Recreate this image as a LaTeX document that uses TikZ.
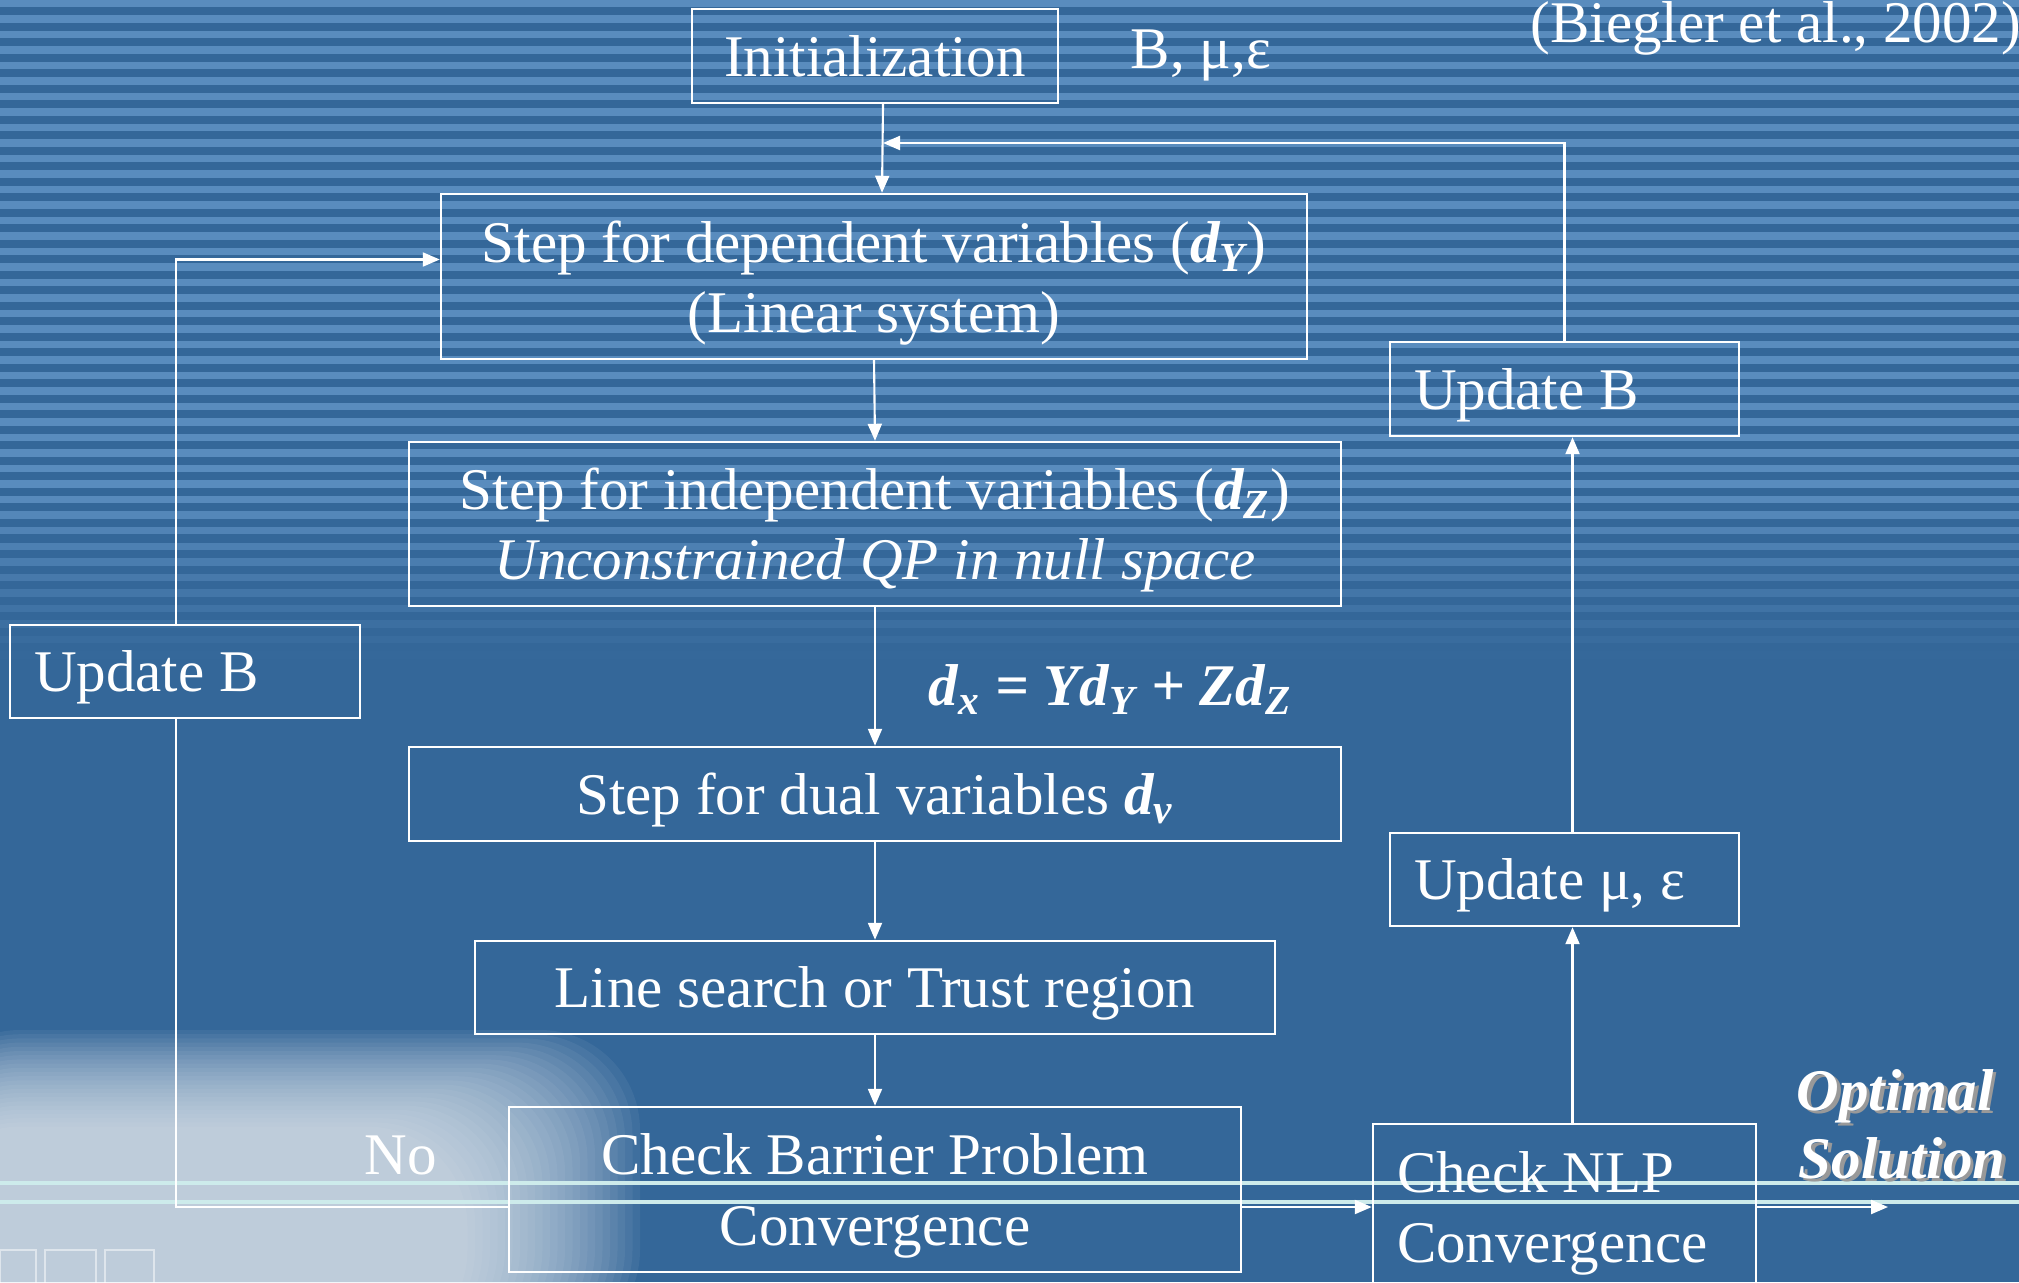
\documentclass[tikz,border=0pt]{standalone}
\usepackage{fontspec}
\setmainfont{Liberation Serif}
\usetikzlibrary{arrows.meta}
\definecolor{slideblue}{RGB}{52,103,153}
\definecolor{stripeblue}{RGB}{115,165,215}
\definecolor{glowline}{RGB}{205,235,235}
\newcommand{\bfit}[1]{\textbf{\textit{#1}}}
\newcommand{\natspace}{\spaceskip 0pt\relax}

\begin{document}
\begin{tikzpicture}[
	frame/.style={draw=white, line width=0.7pt, text=white, inner sep=0pt, text depth=0pt, font=\fontsize{16.8}{20}\selectfont},
	box/.style={frame, align=center},
	lbox/.style={frame, align=left, inner xsep=0.24cm, execute at begin node=\natspace},
	flow/.style={draw=white, line width=0.6pt},
	arr/.style={flow, -{Triangle[length=0.17cm, width=0.14cm]}},
	lbl/.style={text=white, inner sep=0pt, font=\fontsize{16.8}{20}\selectfont}
]
	\clip (0,0) rectangle (20.19,-12.82);
	\fill[slideblue] (0,0) rectangle (20.19,-12.82);
	\foreach \i in {0,...,42} {
		\pgfmathsetmacro{\op}{min(0.6,max(0,(6.6-0.155*\i)*0.35))}
		\fill[stripeblue, opacity=\op] (0,-0.155*\i) rectangle (20.19,-0.155*\i-0.075);
	}
	\foreach \k in {0,...,23} {
		\fill[white!92!slideblue, opacity=0.06, rounded corners=1cm] (-0.8,-10.3-0.042*\k) rectangle (6.4-0.075*\k,-13.5);
	}
	\foreach \y in {11.83,12.02} {
		\draw[glowline, line width=0.9pt] (0,-\y) -- (20.19,-\y);
	}
	\foreach \a/\b in {0/0.36, 0.45/0.96, 1.05/1.54} {
		\draw[white, opacity=0.5, line width=0.8pt] (\a,-12.9) rectangle (\b,-12.5);
	}

	\node[box, minimum width=3.66cm, minimum height=0.94cm] (init) at (8.75,-0.56) {Initialization};
	\node[lbl, anchor=base west] (param) at (11.30,-0.69) {B, μ,ε};
	\node[lbl, anchor=base west] (ref) at (15.30,-0.43) {(Biegler et al., 2002)};
	\node[box, minimum width=8.66cm, minimum height=1.65cm] (stepY) at (8.74,-2.765) {Step for dependent variables (\bfit{d\textsubscript{Y}})\\(Linear system)};
	\node[box, minimum width=9.32cm, minimum height=1.64cm] (stepZ) at (8.75,-5.24) {Step for independent variables (\bfit{d\textsubscript{Z}})\\\textit{Unconstrained QP in null space}};
	\node[lbl, anchor=base west] (dx) at (9.28,-7.05) {\bfit{d\textsubscript{x} = Yd\textsubscript{Y} + Zd\textsubscript{Z}}};
	\node[box, minimum width=9.32cm, minimum height=0.94cm] (dual) at (8.75,-7.94) {Step for dual variables \bfit{d\textsubscript{v}}};
	\node[box, minimum width=8.00cm, minimum height=0.93cm] (search) at (8.75,-9.875) {Line search or Trust region};
	\node[box, minimum width=7.32cm, minimum height=1.65cm] (barrier) at (8.75,-11.895) {Check Barrier Problem\\Convergence};
	\node[lbl, anchor=base west] (no) at (3.64,-11.74) {No};
	\node[lbox, text width=3.02cm, minimum height=0.93cm] (updL) at (1.85,-6.715) {Update B};
	\node[lbox, text width=3.01cm, minimum height=0.94cm] (updR) at (15.645,-3.89) {Update B};
	\node[lbox, text width=3.01cm, minimum height=0.93cm] (updMu) at (15.645,-8.795) {Update μ, ε};
	\node[lbox, text width=3.35cm, text depth=0.70cm, minimum height=1.66cm] (nlp) at (15.645,-12.07) {Check NLP\\Convergence};
	\foreach \d/\c in {0.035/gray!80, 0/white} {
		\node[lbl, anchor=base west, text=\c, font=\fontsize{16.8}{20}\selectfont\bfseries\itshape] (opt) at (17.96+\d,-11.10-\d) {Optimal};
		\node[lbl, anchor=base west, text=\c, font=\fontsize{16.8}{20}\selectfont\bfseries\itshape] (sol) at (17.98+\d,-11.78-\d) {Solution};
	}

	\coordinate (merge) at (8.83,-1.43);
	\coordinate (lvl) at (0,-12.07);
	\coordinate (out) at (18.88,-12.07);
	\draw[arr] ([xshift=0.08cm]init.south) -- ([xshift=0.08cm]stepY.north);
	\draw[arr] (stepY.south) -- (stepZ.north);
	\draw[arr] (stepZ.south) -- (dual.north);
	\draw[arr] (dual.south) -- (search.north);
	\draw[arr] (search.south) -- (barrier.north);
	\draw[flow] (barrier.west |- lvl) -| ([xshift=-0.09cm]updL.south);
	\draw[arr] ([xshift=-0.09cm]updL.north) |- ([yshift=0.17cm]stepY.west);
	\draw[arr] (barrier.east |- lvl) -- (nlp.west |- lvl);
	\draw[arr] (nlp.east |- lvl) -- (out);
	\draw[arr] ([xshift=0.08cm]nlp.north) -- ([xshift=0.08cm]updMu.south);
	\draw[arr] ([xshift=0.08cm]updMu.north) -- ([xshift=0.08cm]updR.south);
	\draw[arr] (updR.north) |- (merge);
\end{tikzpicture}
\end{document}
